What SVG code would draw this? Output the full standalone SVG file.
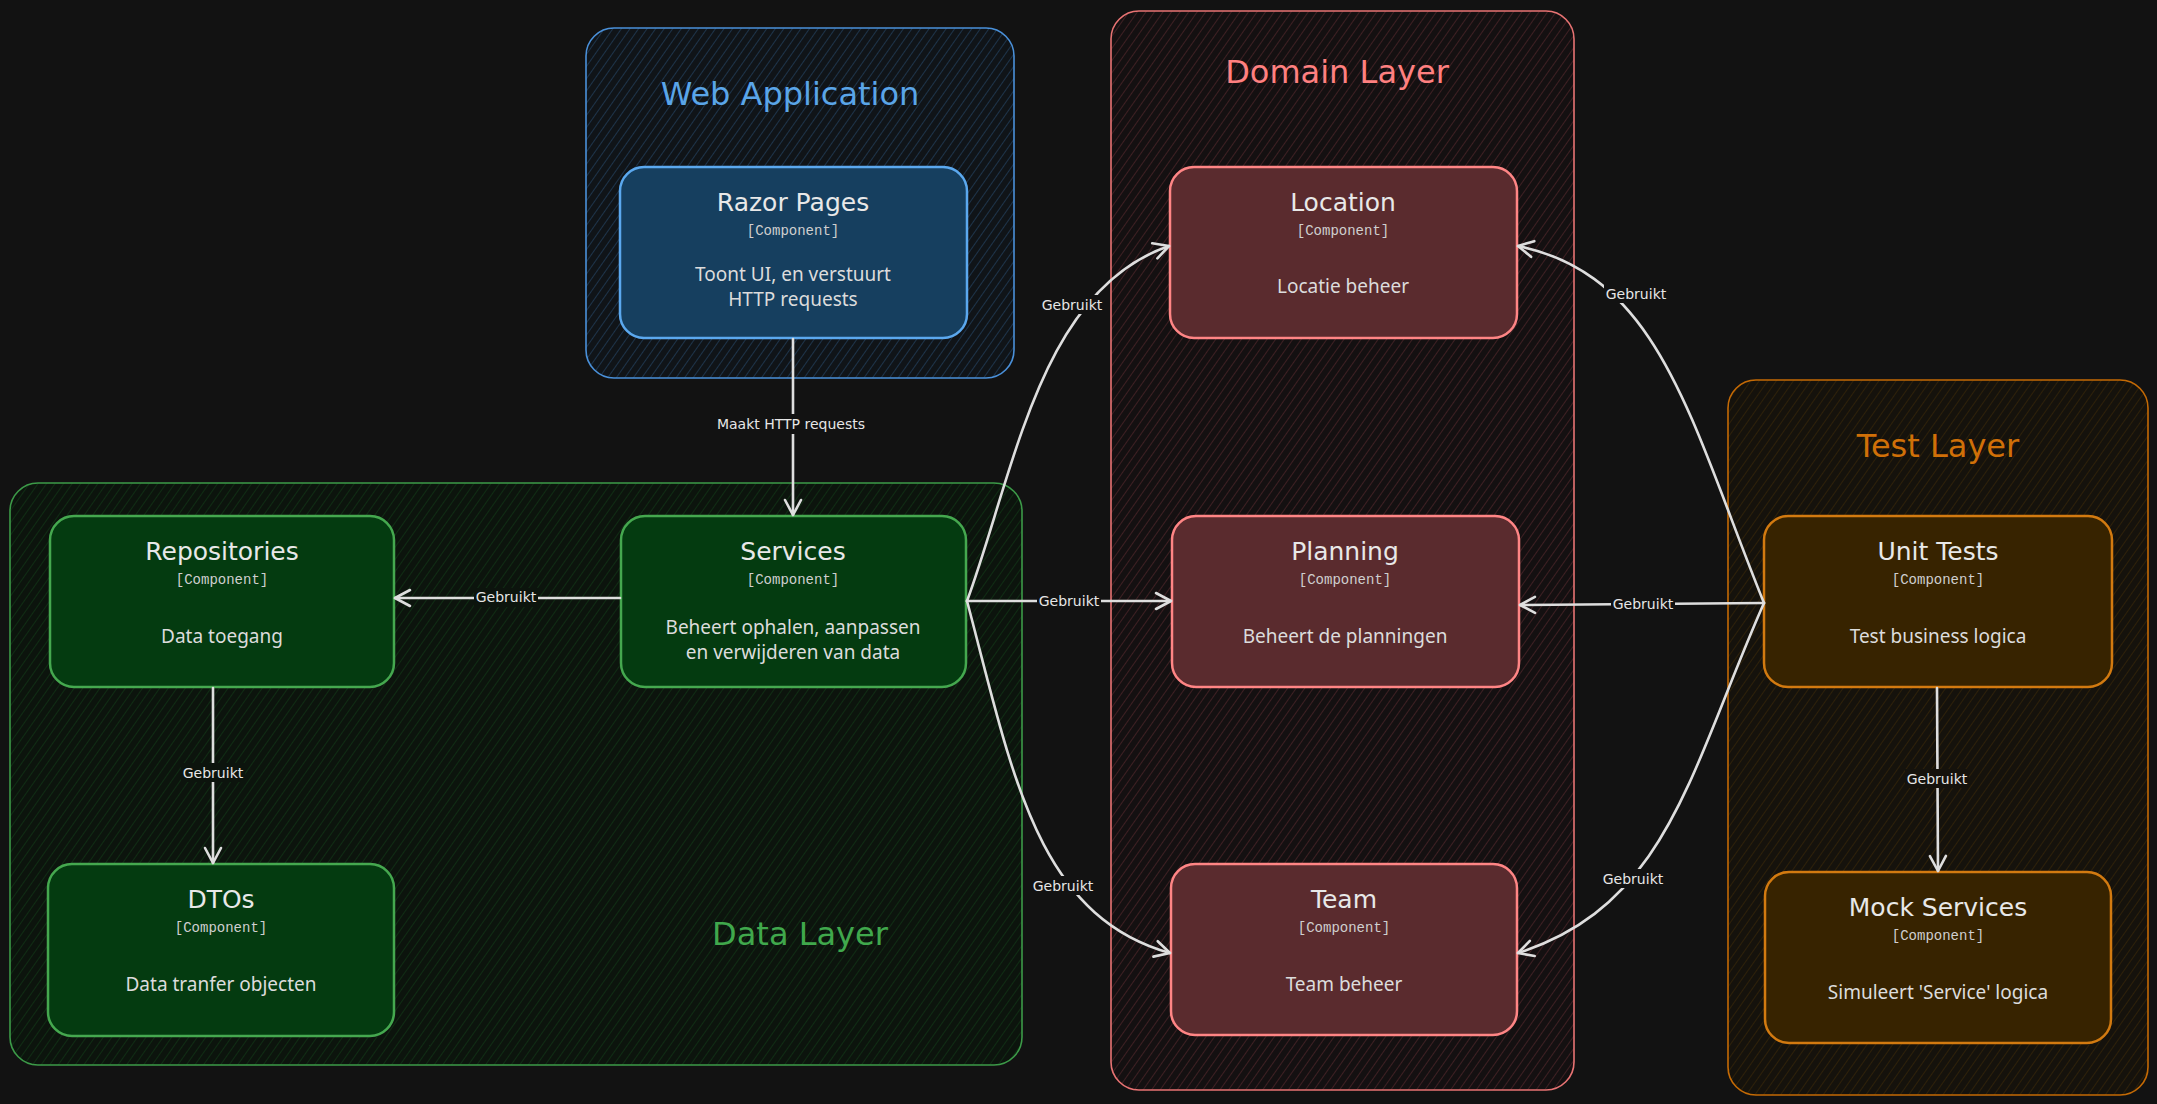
<svg xmlns="http://www.w3.org/2000/svg" width="2157" height="1104" viewBox="0 0 2157 1104">
<defs>
<style>
.ct{font-family:"DejaVu Sans",sans-serif;font-size:32px;text-anchor:middle}
.nt{font-family:"DejaVu Sans",sans-serif;font-size:25px;fill:#e8e8e8;text-anchor:middle}
.nc{font-family:"Liberation Mono",monospace;font-size:14px;fill:#cfcfcf;text-anchor:middle}
.nd{font-family:"Noto Sans",sans-serif;font-size:19px;fill:#dcdcdc;text-anchor:middle}
.el{font-family:"DejaVu Sans",sans-serif;font-size:14px;fill:#e6e6e6;text-anchor:middle}
.conn{fill:none;stroke:#dedede;stroke-width:2.6;stroke-linecap:round}
.lbg{fill:#121212}
</style>
<pattern id="hb" width="7" height="7" patternUnits="userSpaceOnUse" patternTransform="rotate(35)"><rect width="7" height="7" fill="#101418"/><line x1="0" y1="0" x2="0" y2="7" stroke="#27496b" stroke-width="1.2"/></pattern>
<pattern id="hr" width="7" height="7" patternUnits="userSpaceOnUse" patternTransform="rotate(35)"><rect width="7" height="7" fill="#141011"/><line x1="0" y1="0" x2="0" y2="7" stroke="#5a2a2e" stroke-width="1.2"/></pattern>
<pattern id="hg" width="7" height="7" patternUnits="userSpaceOnUse" patternTransform="rotate(35)"><rect width="7" height="7" fill="#0c140d"/><line x1="0" y1="0" x2="0" y2="7" stroke="#123d18" stroke-width="1.2"/></pattern>
<pattern id="ho" width="7" height="7" patternUnits="userSpaceOnUse" patternTransform="rotate(35)"><rect width="7" height="7" fill="#15120c"/><line x1="0" y1="0" x2="0" y2="7" stroke="#3e2a08" stroke-width="1.2"/></pattern>
<marker id="arr" markerUnits="userSpaceOnUse" markerWidth="22" markerHeight="22" refX="17" refY="10" orient="auto"><path d="M2,2 L17,10 L2,18" fill="none" stroke="#dedede" stroke-width="2.6" stroke-linecap="round" stroke-linejoin="round"/></marker>
</defs>
<rect width="2157" height="1104" fill="#121212"/>

<g id="web-application">
<rect x="586" y="28" width="428" height="350" rx="28" fill="url(#hb)" stroke="#4a90d9" stroke-width="1.6"/>
<text class="ct" x="790" y="105" fill="#5aa5e8">Web Application</text>
</g>
<g id="domain-layer">
<rect x="1111" y="11" width="463" height="1079" rx="28" fill="url(#hr)" stroke="#e87373" stroke-width="1.6"/>
<text class="ct" x="1337" y="83" fill="#ff8080">Domain Layer</text>
</g>
<g id="data-layer">
<rect x="10" y="483" width="1012" height="582" rx="28" fill="url(#hg)" stroke="#3c9a48" stroke-width="1.6"/>
<text class="ct" x="800" y="945" fill="#40a84c">Data Layer</text>
</g>
<g id="test-layer">
<rect x="1728" y="380" width="420" height="715" rx="28" fill="url(#ho)" stroke="#c46a05" stroke-width="1.6"/>
<text class="ct" x="1938" y="457" fill="#d07008">Test Layer</text>
</g>

<g id="razor-pages">
<rect x="620" y="167" width="347" height="171" rx="24" fill="#163f5f" stroke="#5ba8ee" stroke-width="2.5"/>
<text class="nt" x="793" y="211">Razor Pages</text>
<text class="nc" x="793" y="235">[Component]</text>
<text class="nd" x="793" y="281">Toont UI, en verstuurt</text>
<text class="nd" x="793" y="306">HTTP requests</text>
</g>
<g id="services">
<rect x="621" y="516" width="345" height="171" rx="24" fill="#043b10" stroke="#45a84f" stroke-width="2.5"/>
<text class="nt" x="793" y="560">Services</text>
<text class="nc" x="793" y="584">[Component]</text>
<text class="nd" x="793" y="634">Beheert ophalen, aanpassen</text>
<text class="nd" x="793" y="659">en verwijderen van data</text>
</g>
<g id="repositories">
<rect x="50" y="516" width="344" height="171" rx="24" fill="#043b10" stroke="#45a84f" stroke-width="2.5"/>
<text class="nt" x="222" y="560">Repositories</text>
<text class="nc" x="222" y="584">[Component]</text>
<text class="nd" x="222" y="643">Data toegang</text>
</g>
<g id="dtos">
<rect x="48" y="864" width="346" height="172" rx="24" fill="#043b10" stroke="#45a84f" stroke-width="2.5"/>
<text class="nt" x="221" y="908">DTOs</text>
<text class="nc" x="221" y="932">[Component]</text>
<text class="nd" x="221" y="991">Data tranfer objecten</text>
</g>
<g id="location">
<rect x="1170" y="167" width="347" height="171" rx="24" fill="#5a2b2e" stroke="#ff8585" stroke-width="2.5"/>
<text class="nt" x="1343" y="211">Location</text>
<text class="nc" x="1343" y="235">[Component]</text>
<text class="nd" x="1343" y="293">Locatie beheer</text>
</g>
<g id="planning">
<rect x="1172" y="516" width="347" height="171" rx="24" fill="#5a2b2e" stroke="#ff8585" stroke-width="2.5"/>
<text class="nt" x="1345" y="560">Planning</text>
<text class="nc" x="1345" y="584">[Component]</text>
<text class="nd" x="1345" y="643">Beheert de planningen</text>
</g>
<g id="team">
<rect x="1171" y="864" width="346" height="171" rx="24" fill="#5a2b2e" stroke="#ff8585" stroke-width="2.5"/>
<text class="nt" x="1344" y="908">Team</text>
<text class="nc" x="1344" y="932">[Component]</text>
<text class="nd" x="1344" y="991">Team beheer</text>
</g>
<g id="unit-tests">
<rect x="1764" y="516" width="348" height="171" rx="24" fill="#372300" stroke="#d27a10" stroke-width="2.5"/>
<text class="nt" x="1938" y="560">Unit Tests</text>
<text class="nc" x="1938" y="584">[Component]</text>
<text class="nd" x="1938" y="643">Test business logica</text>
</g>
<g id="mock-services">
<rect x="1765" y="872" width="346" height="171" rx="24" fill="#372300" stroke="#d27a10" stroke-width="2.5"/>
<text class="nt" x="1938" y="916">Mock Services</text>
<text class="nc" x="1938" y="940">[Component]</text>
<text class="nd" x="1938" y="999">Simuleert 'Service' logica</text>
</g>

<g id="connectors">
<path class="conn" d="M793,339 L793,515" marker-end="url(#arr)"/>
<path class="conn" d="M620,598 L395,598" marker-end="url(#arr)"/>
<path class="conn" d="M213,688 L213,863" marker-end="url(#arr)"/>
<path class="conn" d="M967,601 C1015,470 1040,290 1169,246" marker-end="url(#arr)"/>
<path class="conn" d="M967,601 L1171,601" marker-end="url(#arr)"/>
<path class="conn" d="M967,601 C1012,770 1035,915 1170,953" marker-end="url(#arr)"/>
<path class="conn" d="M1764,603 C1690,420 1660,275 1518,246" marker-end="url(#arr)"/>
<path class="conn" d="M1764,603 L1520,605" marker-end="url(#arr)"/>
<path class="conn" d="M1764,603 C1690,770 1668,905 1518,953" marker-end="url(#arr)"/>
<path class="conn" d="M1937,688 L1938,871" marker-end="url(#arr)"/>
<g id="edge-labels">
<rect class="lbg" x="700" y="414" width="182" height="20"/>
<text class="el" x="791" y="429">Maakt HTTP requests</text>
<rect x="474" y="588" width="64" height="19" fill="#0c140d"/>
<text class="el" x="506" y="602">Gebruikt</text>
<rect x="181" y="763" width="64" height="19" fill="#0c140d"/>
<text class="el" x="213" y="778">Gebruikt</text>
<rect class="lbg" x="1040" y="295" width="64" height="19"/>
<text class="el" x="1072" y="310">Gebruikt</text>
<rect class="lbg" x="1037" y="591" width="64" height="19"/>
<text class="el" x="1069" y="606">Gebruikt</text>
<rect class="lbg" x="1031" y="876" width="64" height="19"/>
<text class="el" x="1063" y="891">Gebruikt</text>
<rect class="lbg" x="1604" y="284" width="64" height="19"/>
<text class="el" x="1636" y="299">Gebruikt</text>
<rect class="lbg" x="1611" y="594" width="64" height="19"/>
<text class="el" x="1643" y="609">Gebruikt</text>
<rect class="lbg" x="1601" y="869" width="64" height="19"/>
<text class="el" x="1633" y="884">Gebruikt</text>
<rect x="1905" y="769" width="64" height="19" fill="#15120c"/>
<text class="el" x="1937" y="784">Gebruikt</text>
</g>
</g>
</svg>
